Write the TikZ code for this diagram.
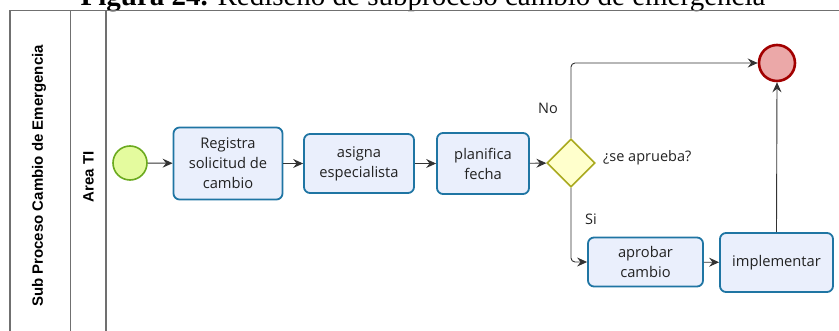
\documentclass[tikz,border=0pt]{standalone}
\usepackage{fontspec}
\setmainfont{Open Sans}
\newfontfamily\titlefont{Liberation Serif}
\newfontfamily\lanefont{Liberation Sans}
\usetikzlibrary{arrows.meta,shapes.geometric}

\definecolor{taskfill}{HTML}{EAEFFC}
\definecolor{taskline}{HTML}{1F75A3}
\definecolor{gwfill}{HTML}{FFFFCC}
\definecolor{gwline}{HTML}{A9A91E}
\definecolor{startfill}{HTML}{E4FB9E}
\definecolor{startline}{HTML}{6BAA1F}
\definecolor{endfill}{HTML}{EBA8A8}
\definecolor{endline}{HTML}{A20000}
\definecolor{laneline}{HTML}{707070}
\definecolor{flowline}{HTML}{333333}
\definecolor{txt}{HTML}{222222}

\tikzset{
  task/.style={draw=taskline, fill=taskfill, line width=1.8pt, rounded corners=6pt,
    align=center, font=\fontsize{14.7}{20}\selectfont, text=txt, inner sep=0pt},
  gateway/.style={diamond, draw=gwline, fill=gwfill, line width=1.6pt,
    minimum width=48pt, minimum height=48pt, inner sep=0pt},
  startev/.style={circle, draw=startline, fill=startfill, line width=1.6pt,
    minimum size=34pt, inner sep=0pt},
  endev/.style={circle, draw=endline, fill=endfill, line width=2.6pt,
    minimum size=36pt, inner sep=0pt},
  flow/.style={draw=flowline, line width=0.9pt, -{Stealth[length=10pt,width=9pt,inset=3.5pt]}},
  lane/.style={draw=laneline, line width=1.3pt},
  lbl/.style={font=\fontsize{14.5}{16}\selectfont, text=txt, inner sep=0pt},
  lanelbl/.style={rotate=90, font=\lanefont\bfseries\fontsize{15}{17}\selectfont, inner sep=0pt},
}

\begin{document}
\begin{tikzpicture}[x=1pt, y=-1pt]
\useasboundingbox (0,0) rectangle (839,331);
\clip (0,0) rectangle (839,331);

% caption above the pool, partly cut off by the page edge
\node[anchor=base, inner sep=0pt, font=\titlefont\fontsize{29}{33}\selectfont] (title) at (423,5.5)
  {\textbf{Figura 24.} Rediseño de subproceso cambio de emergencia};

% pool and lane frame
\draw[lane] (10,340) -- (10,10.5) -- (845,10.5);
\draw[lane] (70.5,10.5) -- (70.5,340);
\draw[lane] (106,10.5) -- (106,340);
\node[lanelbl] (pool) at (39,176) {Sub Proceso Cambio de Emergencia};
\node[lanelbl] (laneTI) at (88.5,177) {Area TI};

% events, tasks and gateway
\node[startev] (start) at (130,163) {};
\node[task, minimum width=109pt, minimum height=72pt] (registra) at (228,163.5)
  {Registra\\solicitud de\\cambio};
\node[task, minimum width=110pt, minimum height=59pt] (asigna) at (359,163.5)
  {asigna\\especialista};
\node[task, minimum width=92pt, minimum height=61pt] (planifica) at (483,163.5)
  {planifica\\fecha};
\node[gateway] (gw) at (571,163) {};
\node[lbl, anchor=west] (gwlabel) at (603,158) {¿se aprueba?};
\node[endev] (end) at (777,63) {};
\node[task, minimum width=115pt, minimum height=49pt] (aprobar) at (645.5,262)
  {aprobar\\cambio};
\node[task, minimum width=113pt, minimum height=59pt] (implementar) at (776.5,262.5)
  {implementar};

% sequence flows
\draw[flow] (start) -- (registra);
\draw[flow] (registra) -- (asigna);
\draw[flow] (asigna) -- (planifica);
\draw[flow] (planifica) -- (gw);
\draw[flow, rounded corners=4pt] (gw.north) |- (end.west);
\draw[flow, rounded corners=4pt] (gw.south) |- (aprobar.west);
\draw[flow] (aprobar) -- (implementar);
\draw[flow] (implementar.north) -- (end.south);

% branch labels
\node[lbl] (no) at (548,108) {No};
\node[lbl] (si) at (591,219) {Si};
\end{tikzpicture}
\end{document}
